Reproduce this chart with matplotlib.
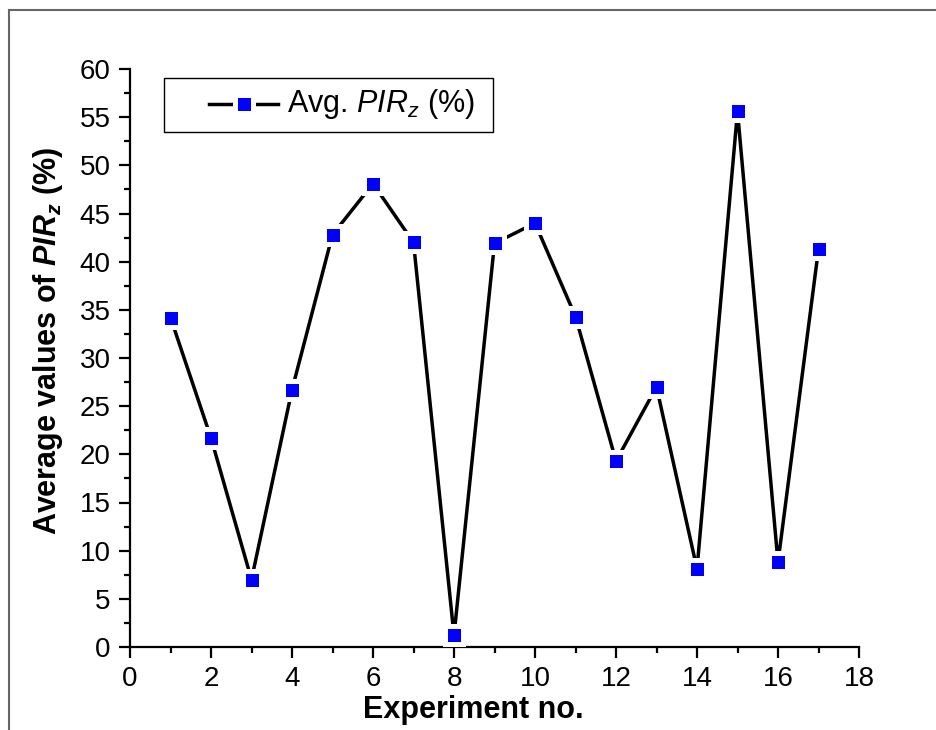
import matplotlib
matplotlib.use("Agg")
import matplotlib.pyplot as plt
from matplotlib.lines import Line2D
from matplotlib.patches import Rectangle
from matplotlib.ticker import MultipleLocator

plt.rcParams['font.family'] = ['Liberation Sans', 'DejaVu Sans']
plt.rcParams['mathtext.fontset'] = 'custom'
plt.rcParams['mathtext.rm'] = 'Liberation Sans'
plt.rcParams['mathtext.it'] = 'Liberation Sans:italic'
plt.rcParams['mathtext.bf'] = 'Liberation Sans:bold'
plt.rcParams['mathtext.bfit'] = 'Liberation Sans:bold:italic'

# Experiment data
experiments = list(range(1, 18))
avg_pirz = [34.2, 21.7, 7.0, 26.7, 42.8, 48.1, 42.0, 1.2, 41.9,
            44.0, 34.3, 19.3, 27.0, 8.1, 55.6, 8.8, 41.3]
series_label = r"Avg. $\mathit{PIR}_{\mathit{z}}$ (%)"
x_label = "Experiment no."
y_label = r"Average values of $\mathbfit{PIR}_{\mathbfit{z}}$ (%)"

fig = plt.figure(figsize=(9.36, 7.30), dpi=100)
ax = fig.add_axes([130 / 936, 1 - 647 / 730, (859 - 130) / 936, (647 - 69) / 730])

marker_style = dict(marker='s', ms=13.3, markerfacecolor='#0000ff',
                    markeredgecolor='white', mew=3.6)
ax.plot(experiments, avg_pirz, color='black', lw=2.5, **marker_style,
        clip_on=False, zorder=3)

ax.set_xlim(0, 18)
ax.set_ylim(0, 60)
ax.xaxis.set_major_locator(MultipleLocator(2))
ax.xaxis.set_minor_locator(MultipleLocator(1))
ax.yaxis.set_major_locator(MultipleLocator(5))
ax.yaxis.set_minor_locator(MultipleLocator(2.5))

for side in ('top', 'right'):
    ax.spines[side].set_visible(False)
for side in ('left', 'bottom'):
    ax.spines[side].set_linewidth(1.6)

ax.tick_params(which='major', direction='out', length=8, width=1.6,
               labelsize=20, pad=6)
ax.tick_params(which='minor', direction='out', length=4, width=1.6)

ax.set_xlabel(x_label, fontsize=22, fontweight='bold')
ax.set_ylabel(y_label, fontsize=22, fontweight='bold')
ax.xaxis.set_label_coords(0.471, -0.083)
ax.yaxis.set_label_coords(-0.089, 0.53)

# Legend box
box = Rectangle((164 / 936, 1 - 132 / 730), (493 - 164) / 936, (132 - 78) / 730,
                transform=fig.transFigure, facecolor='white', edgecolor='black',
                lw=1.0, zorder=5)
fig.add_artist(box)
ly = 1 - 104 / 730
fig.add_artist(Line2D([209 / 936, 278 / 936], [ly, ly], transform=fig.transFigure,
                      color='black', lw=2.5, zorder=6))
fig.add_artist(Line2D([243.5 / 936], [ly], transform=fig.transFigure,
                      lw=0, zorder=7, **marker_style))
fig.text(287 / 936, ly, series_label, fontsize=22, va='center', ha='left', zorder=7)

# Outer frame
frame_color = '#666666'
fig.add_artist(Line2D([9 / 936, 1.0], [1 - 10 / 730, 1 - 10 / 730],
                      transform=fig.transFigure, color=frame_color, lw=1.5))
fig.add_artist(Line2D([9 / 936, 9 / 936], [0.0, 1 - 10 / 730],
                      transform=fig.transFigure, color=frame_color, lw=1.5))

fig.savefig("out.png", dpi=100)
